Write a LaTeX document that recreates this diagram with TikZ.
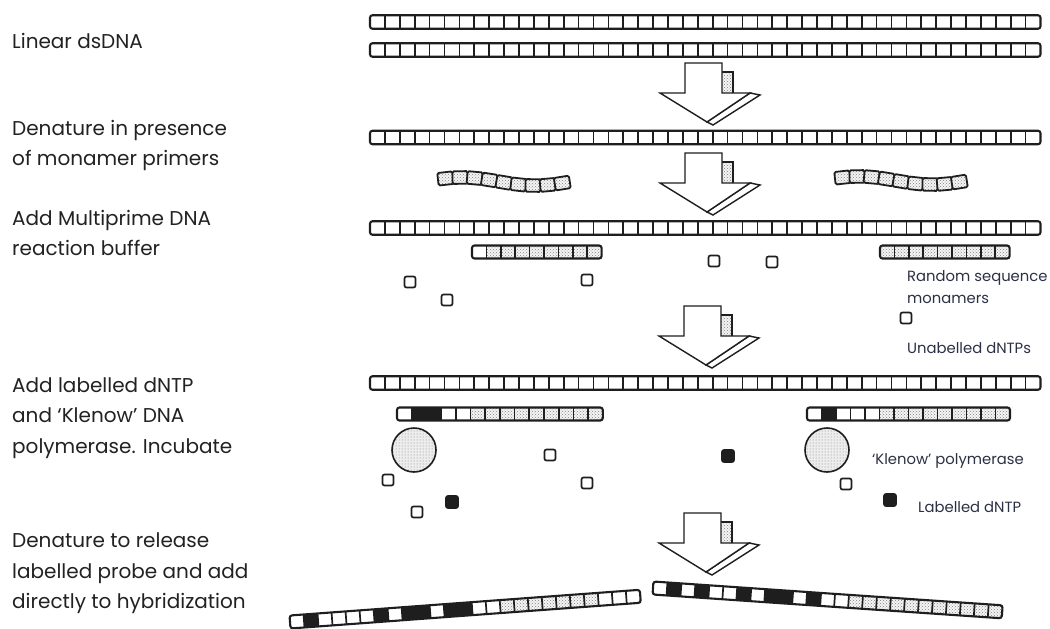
\documentclass[tikz,border=0pt]{standalone}
\usepackage{fontspec}
\setmainfont{Poppins}
\usetikzlibrary{patterns}

\definecolor{ink}{HTML}{1E1E1E}
\definecolor{labeltext}{HTML}{222222}
\definecolor{notetext}{HTML}{2C3044}

\tikzset{
  strandline/.style={draw=ink, line width=2.1pt, rounded corners=2.5pt},
  divider/.style={draw=ink, line width=1.7pt},
  cellw/.style={fill=white},
  cellb/.style={fill=ink},
  cellt/.style={preaction={fill=black!4}, pattern=crosshatch dots, pattern color=black!50},
  arrowline/.style={draw=ink, line width=1.4pt, line join=miter},
  nucleotide/.style={draw=ink, line width=1.7pt, rounded corners=2pt},
  enzyme/.style={draw=ink, line width=1.6pt, preaction={fill=black!7}, pattern=dots, pattern color=black!50},
  steplabel/.style={anchor=base west, inner sep=0pt, text=labeltext, font=\fontsize{20}{24}\selectfont},
  notelabel/.style={anchor=base west, inner sep=0pt, text=notetext, font=\fontsize{14.8}{18}\selectfont},
}

% a straight row of #3 cells (width #1, height #2), starting at the local origin
\newcommand\plainrow[3]{%
  \foreach \k in {1,...,\numexpr#3-1\relax}
    \draw[divider] (\k*#1, -#2/2) -- (\k*#1, #2/2);
  \draw[strandline] (0, -#2/2) rectangle (#3*#1, #2/2);
}
% the same row with each cell filled after the list #4 (w, b or t)
\newcommand\cellrow[4]{%
  \foreach \c [count=\i from 0] in {#4}
    \path[cell\c] (\i*#1, -#2/2) rectangle ++(#1, #2);
  \plainrow{#1}{#2}{#3}%
}
% a short strand bent along a gentle wave, left end at x=#1, mean height #2
\newcommand\wavyprimer[2]{%
  \foreach \i in {0,...,8} {
    \pgfmathsetmacro\u{7.5+14.6*\i}
    \pgfmathsetmacro\ph{(\u-24)/146*360}
    \pgfmathsetmacro\yy{#2 - 4*cos(\ph)}
    \pgfmathsetmacro\ang{-atan(0.172*sin(\ph))}
    \begin{scope}[shift={(#1+\u, \yy)}, rotate=\ang]
      \path[cellt] (-7.6,-6.3) rectangle (7.6,6.3);
      \draw[draw=ink, line width=1.8pt, rounded corners=1.5pt] (-7.6,-6.3) rectangle (7.6,6.3);
    \end{scope}
  }
}
% block arrow pointing down, shaft centre #1, top #2
\newcommand\blockarrow[2]{%
  \begin{scope}[shift={(#1,#2)}]
    \path[cellt] (18,9) rectangle (29,30);
    \draw[arrowline] (18,9) -- (29,9) -- (29,30);
    \draw[arrowline, fill=white] (3,59) -- (46,30) -- (56,32) -- (9,62) -- cycle;
    \draw[arrowline, fill=white] (-19,0) -- (18,0) -- (18,30) -- (46,30) -- (3,59)
      -- (-44,30) -- (-19,30) -- cycle;
  \end{scope}%
}

\begin{document}
\begin{tikzpicture}[x=1pt, y=-1pt]
\useasboundingbox[fill=white] (0,0) rectangle (1050,629);

% ---- step labels ----
\node[steplabel] (l1) at (12,48) {Linear dsDNA};
\node[steplabel] (l2a) at (12,135) {Denature in presence};
\node[steplabel] (l2b) at (12,165) {of monamer primers};
\node[steplabel] (l3a) at (12,225) {Add Multiprime DNA};
\node[steplabel] (l3b) at (12,255) {reaction buffer};
\node[steplabel] (l4a) at (12,392) {Add labelled dNTP};
\node[steplabel] (l4b) at (12,422) {and ‘Klenow’ DNA};
\node[steplabel] (l4c) at (12,453) {polymerase. Incubate};
\node[steplabel] (l5a) at (12,547) {Denature to release};
\node[steplabel] (l5b) at (12,578) {labelled probe and add};
\node[steplabel] (l5c) at (12,608) {directly to hybridization};

% ---- template strands ----
\begin{scope}[shift={(370,22)}]  \plainrow{14.9}{13.5}{45} \end{scope}
\begin{scope}[shift={(370,50)}]  \plainrow{14.9}{13.5}{45} \end{scope}
\begin{scope}[shift={(370,137.5)}] \plainrow{14.9}{13.5}{45} \end{scope}
\begin{scope}[shift={(370,228)}] \plainrow{14.9}{13.5}{45} \end{scope}
\begin{scope}[shift={(370,383)}] \plainrow{14.9}{13.5}{45} \end{scope}

% ---- arrows ----
\blockarrow{704}{63}
\blockarrow{704}{153}
\blockarrow{703}{306}
\blockarrow{703}{513}

% ---- free primers ----
\wavyprimer{438}{181.5}
\wavyprimer{835}{180.5}

% ---- annealed primers ----
\begin{scope}[shift={(472,252)}] \cellrow{14.4}{13}{9}{w,t,t,t,t,t,t,t,t} \end{scope}
\begin{scope}[shift={(880,252)}] \cellrow{14.4}{13}{9}{t,t,t,t,t,t,t,t,t} \end{scope}

% ---- unlabelled nucleotides ----
\foreach \p in {(410,282),(447,300),(587,280),(714,261),(772,262),(906,318)}
  \draw[nucleotide, fill=white] \p ++(-5.5,-5.5) rectangle ++(11,11);

\node[notelabel] (n1) at (907,281) {Random sequence};
\node[notelabel] (n2) at (907,303) {monamers};
\node[notelabel] (n3) at (907,353) {Unabelled dNTPs};

% ---- extended primers ----
\begin{scope}[shift={(397,414)}] \cellrow{14.7}{13}{14}{w,b,b,w,w,t,t,t,t,t,t,t,t,t} \end{scope}
\begin{scope}[shift={(807,414)}] \cellrow{14.5}{13}{14}{w,b,w,w,w,t,t,t,t,t,t,t,t,t} \end{scope}

% ---- Klenow polymerase ----
\draw[enzyme] (414,450) circle (22);
\draw[enzyme] (827,450) circle (22);
\node[notelabel] (n4) at (872,464) {‘Klenow’ polymerase};

% ---- nucleotides, unlabelled and labelled ----
\foreach \p in {(550,455),(388,480),(587,483),(417,512),(846,484)}
  \draw[nucleotide, fill=white] \p ++(-5.5,-5.5) rectangle ++(11,11);
\foreach \p in {(728,456),(452,502),(890,500)}
  \draw[nucleotide, fill=ink] \p ++(-6,-6) rectangle ++(12,12);
\node[notelabel] (n5) at (918,512) {Labelled dNTP};

% ---- released labelled probes ----
\begin{scope}[shift={(290,622)}, rotate=4.2]
  \cellrow{14.05}{13}{25}{w,b,w,w,w,w,b,w,b,b,w,b,b,w,w,t,t,t,t,t,t,t,w,w,w}
\end{scope}
\begin{scope}[shift={(653,588)}, rotate=-3.9]
  \cellrow{14.0}{13}{25}{w,b,w,b,w,w,b,w,b,b,w,b,w,w,t,t,t,t,t,t,t,t,t,t,t}
\end{scope}
\end{tikzpicture}
\end{document}
